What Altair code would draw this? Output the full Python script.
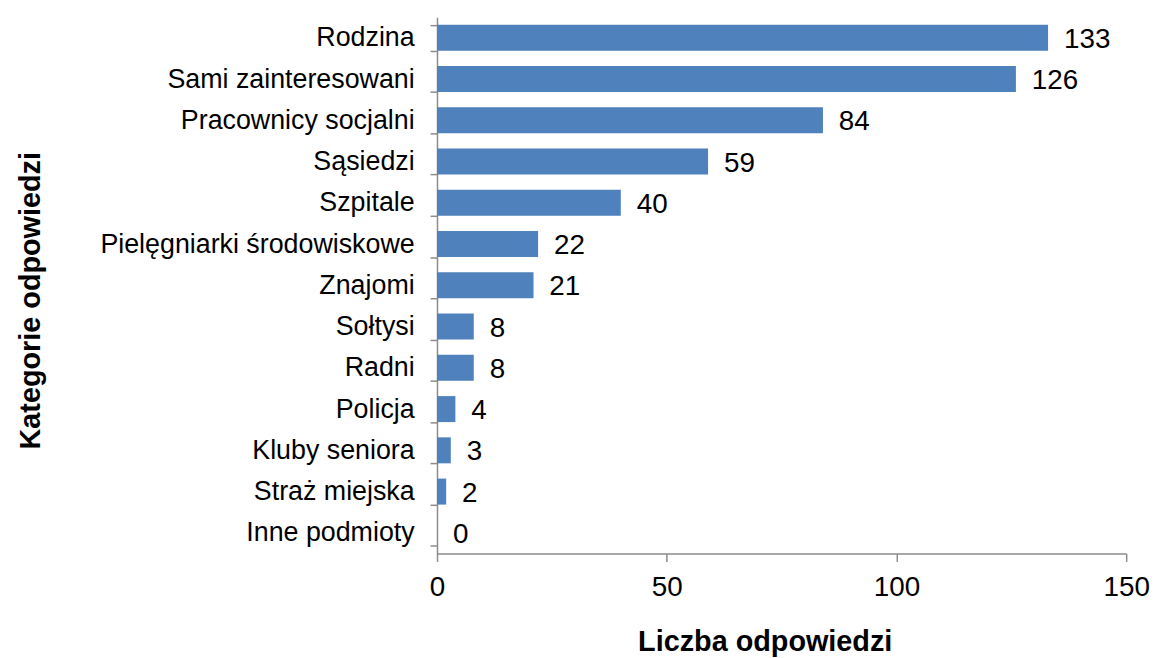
import altair as alt
import pandas as pd

categories = ["Rodzina", "Sami zainteresowani", "Pracownicy socjalni", "Sąsiedzi", "Szpitale",
              "Pielęgniarki środowiskowe", "Znajomi", "Sołtysi", "Radni", "Policja",
              "Kluby seniora", "Straż miejska", "Inne podmioty"]
values = [133, 126, 84, 59, 40, 22, 21, 8, 8, 4, 3, 2, 0]
x_ticks = [0, 50, 100, 150]

df = pd.DataFrame({"kat": categories, "n": values})

FONT = "Liberation Sans"
AXC = "#8c8c8c"

y_enc = alt.Y("kat:N", sort=categories,
              scale=alt.Scale(paddingInner=0.37, paddingOuter=0.185),
              axis=alt.Axis(title="Kategorie odpowiedzi", tickBand="extent",
                            domainColor=AXC, tickColor=AXC, domainWidth=1.5, tickWidth=1.5,
                            tickSize=7, labelPadding=16, labelFontSize=27, labelFont=FONT,
                            labelLimit=420,
                            labelColor="#000000", titleFont=FONT, titleFontSize=29,
                            titleFontWeight="bold", titleColor="#000000",
                            titleX=-409, titleY=285, titleAngle=270,
                            titleAlign="center", titleBaseline="middle"))
x_enc = alt.X("n:Q", scale=alt.Scale(domain=[0, 150], nice=False, zero=True),
              axis=alt.Axis(title="Liczba odpowiedzi", values=x_ticks, grid=False,
                            domainColor=AXC, tickColor=AXC, domainWidth=1.5, tickWidth=1.5,
                            tickSize=8, labelPadding=12, labelFontSize=28, labelFont=FONT,
                            labelColor="#000000", titleFont=FONT, titleFontSize=29,
                            titleFontWeight="bold", titleColor="#000000",
                            titleX=330, titleY=98, titleAlign="center",
                            titleBaseline="alphabetic", labelFlush=False))

bars = alt.Chart(df).mark_bar(color="#4F81BD").encode(x=x_enc, y=y_enc)
text = alt.Chart(df).mark_text(align="left", baseline="middle", dx=16, dy=2,
                                fontSize=28, font=FONT, color="#000000").encode(
    x="n:Q", y=alt.Y("kat:N", sort=categories), text="n:Q")

chart = (bars + text).properties(
    width=694, height=540,
    autosize=alt.AutoSizeParams(type="none"),
    padding={"left": 432, "top": 7, "right": 26, "bottom": 103},
).configure_view(stroke=None).configure_axis(grid=False)

chart.save("out.html", embed_options={"renderer": "svg", "actions": False})
